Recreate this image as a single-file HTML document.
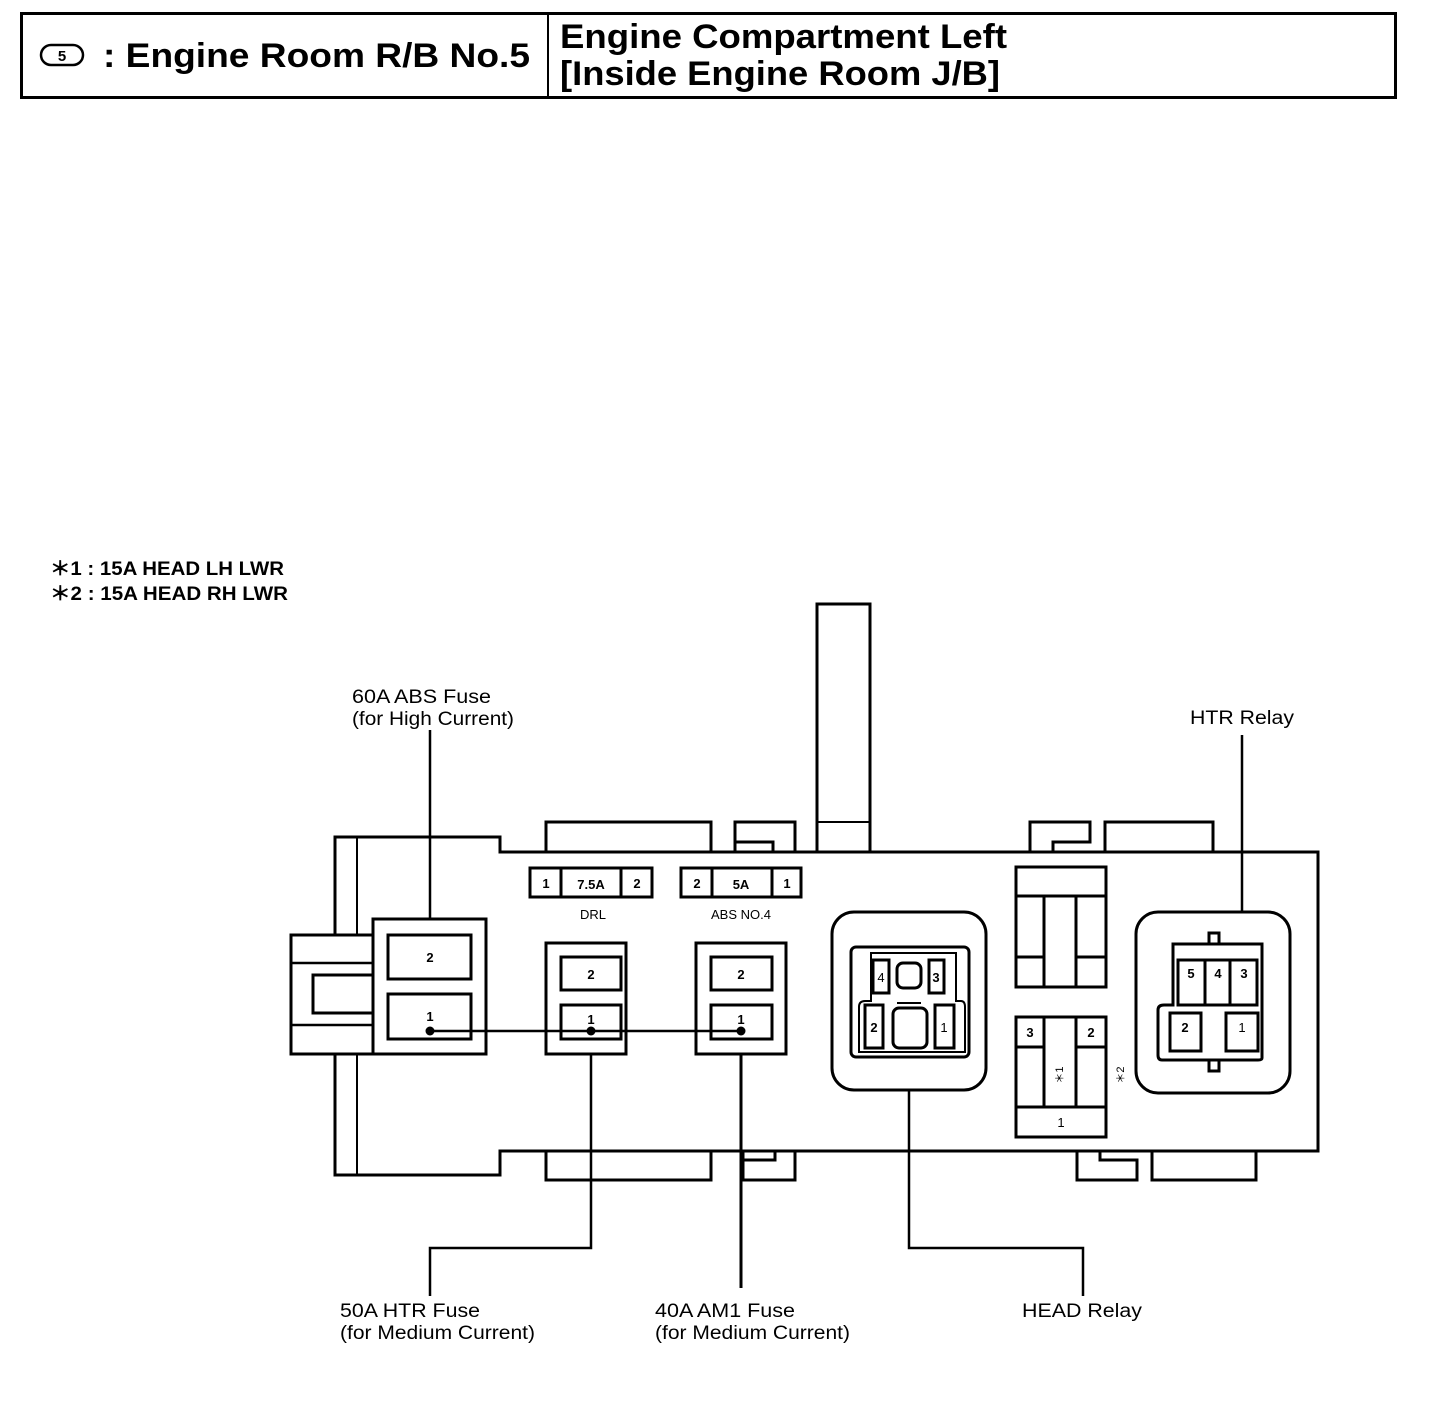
<!DOCTYPE html>
<html><head><meta charset="utf-8"><style>
body{margin:0;background:#fff}
svg{display:block}
text{font-family:"Liberation Sans",Arial,sans-serif;fill:#000}
</style></head><body>
<svg width="1440" height="1426" viewBox="0 0 1440 1426" xmlns="http://www.w3.org/2000/svg">
<g fill="none" stroke="#000" stroke-width="3">
<rect x="21.5" y="13.5" width="1374" height="84"/>
<line x1="548" y1="13" x2="548" y2="98" stroke-width="2"/>
<rect x="41" y="45" width="42" height="20" rx="10" stroke-width="2.5"/>
</g>
<text x="62" y="61" font-size="15" text-anchor="middle" font-weight="bold">5</text>
<text x="103" y="67" font-size="34" font-weight="bold" textLength="427" lengthAdjust="spacingAndGlyphs">: Engine Room R/B No.5</text>
<text x="560" y="48" font-size="34" font-weight="bold" textLength="447" lengthAdjust="spacingAndGlyphs">Engine Compartment Left</text>
<text x="560" y="85" font-size="34" font-weight="bold" textLength="440" lengthAdjust="spacingAndGlyphs">[Inside Engine Room J/B]</text>

<text x="50" y="575" font-size="19" font-weight="bold" textLength="234" lengthAdjust="spacingAndGlyphs">＊1 : 15A HEAD LH LWR</text>
<text x="50" y="600" font-size="19" font-weight="bold" textLength="238" lengthAdjust="spacingAndGlyphs">＊2 : 15A HEAD RH LWR</text>

<g fill="none" stroke="#000" stroke-width="3">
<path d="M335 935 V837 H500 V852 H1318 V1151 H500 V1175 H335 V1055"/>
<line x1="357" y1="837" x2="357" y2="935" stroke-width="2"/>
<line x1="357" y1="1055" x2="357" y2="1175" stroke-width="2"/>
<rect x="291" y="935" width="82" height="119"/>
<line x1="291" y1="963" x2="373" y2="963" stroke-width="2.5"/>
<line x1="291" y1="1025" x2="373" y2="1025" stroke-width="2.5"/>
<rect x="313" y="975" width="60" height="38"/>
<path d="M546 852 V822 H711 V852"/>
<path d="M735 852 V822 H795 V852 M735 842 H773 V852"/>
<rect x="817" y="604" width="53" height="248"/>
<line x1="817" y1="822" x2="870" y2="822" stroke-width="2"/>
<path d="M1030 852 V822 H1090 V842 H1053 V852"/>
<path d="M1105 852 V822 H1213 V852"/>
<path d="M546 1151 V1180 H711 V1151"/>
<path d="M743 1151 V1180 H795 V1151 M775 1151 V1160 H743"/>
<path d="M1077 1151 V1180 H1137 V1160 H1100 V1151"/>
<path d="M1152 1151 V1180 H1256 V1151"/>
<rect x="530" y="868" width="122" height="29"/><line x1="561" y1="868" x2="561" y2="897"/><line x1="621" y1="868" x2="621" y2="897"/>
<rect x="681" y="868" width="120" height="29"/><line x1="712" y1="868" x2="712" y2="897"/><line x1="772" y1="868" x2="772" y2="897"/>
<rect x="373" y="919" width="113" height="135"/>
<rect x="388" y="935" width="83" height="44"/>
<rect x="388" y="994" width="83" height="45"/>
<rect x="546" y="943" width="80" height="111"/>
<rect x="561" y="957" width="60" height="33"/>
<rect x="561" y="1005" width="60" height="34"/>
<rect x="696" y="943" width="90" height="111"/>
<rect x="711" y="957" width="61" height="33"/>
<rect x="711" y="1005" width="61" height="34"/>
<rect x="832" y="912" width="154" height="178" rx="22"/>
<rect x="851" y="947" width="118" height="110" rx="5"/>
<path d="M859 1052 V1007 Q859 1001 865 1001 H871 V953 H956 V1001 H961 Q965 1001 965 1007 V1052 Z" stroke-width="2"/>
<rect x="873" y="960" width="16" height="33"/>
<rect x="897" y="963" width="24" height="25" rx="6"/>
<rect x="929" y="960" width="15" height="33"/>
<rect x="865" y="1005" width="18" height="43"/>
<rect x="893" y="1008" width="34" height="40" rx="6"/>
<line x1="897" y1="1003" x2="921" y2="1003" stroke-width="2"/>
<rect x="935" y="1005" width="19" height="43"/>
<rect x="1016" y="867" width="90" height="120"/>
<line x1="1016" y1="896" x2="1106" y2="896"/>
<path d="M1044 987 V896 M1076 987 V896"/>
<line x1="1016" y1="957" x2="1044" y2="957"/><line x1="1076" y1="957" x2="1106" y2="957"/>
<rect x="1016" y="1017" width="90" height="120"/>
<line x1="1016" y1="1047" x2="1044" y2="1047"/><line x1="1076" y1="1047" x2="1106" y2="1047"/>
<path d="M1044 1017 V1107 H1076 V1017"/>
<line x1="1016" y1="1107" x2="1106" y2="1107"/>
<rect x="1136" y="912" width="154" height="181" rx="22"/>
<path d="M1173 1005 V944 H1262 V1058 Q1262 1060 1258 1060 H1162 Q1158 1060 1158 1055 V1010 Q1158 1005 1164 1005 Z"/>
<rect x="1178" y="960" width="79" height="45"/>
<line x1="1205" y1="960" x2="1205" y2="1005"/><line x1="1230" y1="960" x2="1230" y2="1005"/>
<rect x="1170" y="1013" width="31" height="38"/>
<rect x="1226" y="1013" width="32" height="38"/>
<rect x="1209" y="933" width="10" height="11"/>
<rect x="1209" y="1060" width="10" height="11"/>
</g>
<g fill="none" stroke="#000" stroke-width="2.5">
<line x1="430" y1="1031" x2="741" y2="1031"/>
<line x1="430" y1="730" x2="430" y2="919"/>
<path d="M591 1054 V1248 H430 V1296"/>
<line x1="741" y1="1054" x2="741" y2="1288" stroke-width="3"/>
<path d="M909 1090 V1248 H1083 V1296"/>
<line x1="1242" y1="735" x2="1242" y2="912"/>
</g>
<g fill="#000"><circle cx="430" cy="1031" r="4.5"/><circle cx="591" cy="1031" r="4.5"/><circle cx="741" cy="1031" r="4.5"/></g>

<g font-size="13" font-weight="bold" text-anchor="middle">
<text x="546" y="888">1</text><text x="591" y="889">7.5A</text><text x="637" y="888">2</text>
<text x="697" y="888">2</text><text x="741" y="889">5A</text><text x="787" y="888">1</text>
<text x="430" y="962">2</text><text x="430" y="1021">1</text>
<text x="591" y="979">2</text><text x="591" y="1024">1</text>
<text x="741" y="979">2</text><text x="741" y="1024">1</text>
<text x="881" y="982" font-weight="normal">4</text><text x="936" y="982">3</text>
<text x="874" y="1032">2</text><text x="944" y="1032" font-weight="normal">1</text>
<text x="1030" y="1037">3</text><text x="1091" y="1037">2</text>
<text x="1061" y="1127" font-weight="normal">1</text>
<text x="1191" y="978">5</text><text x="1218" y="978">4</text><text x="1244" y="978">3</text>
<text x="1185" y="1032">2</text><text x="1242" y="1032" font-weight="normal">1</text>
</g>
<text x="1063" y="1075" font-size="11" text-anchor="middle" transform="rotate(-90 1063 1075)">＊1</text>
<text x="1124" y="1075" font-size="11" text-anchor="middle" transform="rotate(-90 1124 1075)">＊2</text>
<text x="593" y="919" font-size="13" text-anchor="middle">DRL</text>
<text x="741" y="919" font-size="13" text-anchor="middle">ABS NO.4</text>

<g font-size="19" lengthAdjust="spacingAndGlyphs">
<text x="352" y="703" textLength="139" lengthAdjust="spacingAndGlyphs">60A ABS Fuse</text>
<text x="352" y="725" textLength="162" lengthAdjust="spacingAndGlyphs">(for High Current)</text>
<text x="1190" y="724" textLength="104" lengthAdjust="spacingAndGlyphs">HTR Relay</text>
<text x="340" y="1317" textLength="140" lengthAdjust="spacingAndGlyphs">50A HTR Fuse</text>
<text x="340" y="1339" textLength="195" lengthAdjust="spacingAndGlyphs">(for Medium Current)</text>
<text x="655" y="1317" textLength="140" lengthAdjust="spacingAndGlyphs">40A AM1 Fuse</text>
<text x="655" y="1339" textLength="195" lengthAdjust="spacingAndGlyphs">(for Medium Current)</text>
<text x="1022" y="1317" textLength="120" lengthAdjust="spacingAndGlyphs">HEAD Relay</text>
</g>
</svg>
</body></html>
